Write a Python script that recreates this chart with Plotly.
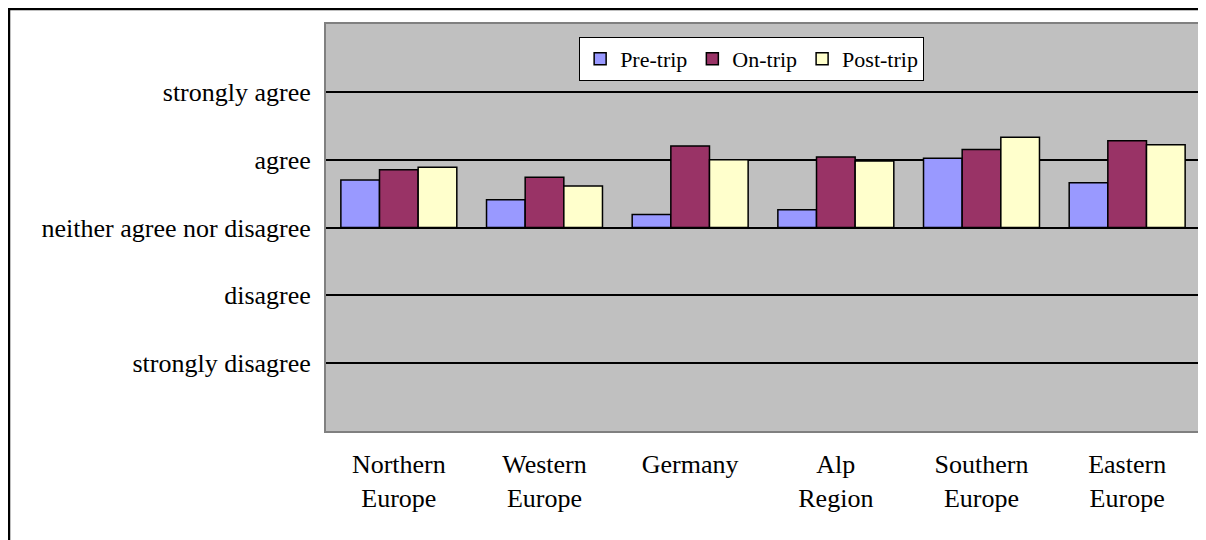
import plotly.graph_objects as go

categories = ["Northern<br>Europe", "Western<br>Europe", "Germany", "Alp<br>Region", "Southern<br>Europe", "Eastern<br>Europe"]
pre_trip = [0.70, 0.41, 0.19, 0.26, 1.02, 0.66]
on_trip = [0.85, 0.74, 1.20, 1.04, 1.15, 1.28]
post_trip = [0.89, 0.61, 1.00, 0.98, 1.33, 1.22]
scale_vals = [2, 1, 0, -1, -2]
scale_labels = ["strongly agree", "agree", "neither agree nor disagree", "disagree", "strongly disagree"]

FONT = "Times New Roman, Liberation Serif, serif"
W, H = 1206, 540
L, R, T, B = 318, 14, 16, 117
pw, ph = W - L - R, H - T - B

fig = go.Figure()
for name, vals, col in [("Pre-trip", pre_trip, "#9999FF"),
                        ("On-trip", on_trip, "#993366"),
                        ("Post-trip", post_trip, "#FFFFCC")]:
    fig.add_trace(go.Bar(x=categories, y=vals, name=name,
                         marker=dict(color=col, line=dict(color="black", width=1.5))))

def px(x):
    return (x - L) / pw

def py(y):
    return (H - B - y) / ph

fig.update_layout(
    width=W, height=H,
    margin=dict(l=L, r=R, t=T, b=B),
    paper_bgcolor="white",
    plot_bgcolor="#C0C0C0",
    barmode="group",
    bargap=0.204,
    bargroupgap=0,
    font=dict(family=FONT, color="black", size=26),
    showlegend=True,
    legend=dict(orientation="h", x=0.487, y=0.968, xanchor="center", yanchor="top",
                bgcolor="white", bordercolor="black", borderwidth=1,
                font=dict(family=FONT, size=22), itemwidth=30,
                traceorder="normal"),
    xaxis=dict(showgrid=False, showline=True, linecolor="#808080", linewidth=2, mirror=True,
               ticks="outside", ticklen=9, tickcolor="rgba(0,0,0,0)",
               tickfont=dict(family=FONT, size=26)),
    yaxis=dict(range=[-3, 3], tickvals=scale_vals, ticktext=scale_labels,
               showgrid=True, gridcolor="black", gridwidth=1.5,
               zeroline=True, zerolinecolor="black", zerolinewidth=1.5,
               showline=True, linecolor="#808080", linewidth=2, mirror=True,
               ticks="outside", ticklen=8, tickcolor="rgba(0,0,0,0)",
               tickfont=dict(family=FONT, size=26)),
    shapes=[
        dict(type="line", xref="paper", yref="paper", x0=px(0), x1=px(W), y0=py(1), y1=py(1),
             line=dict(color="black", width=2.5)),
        dict(type="line", xref="paper", yref="paper", x0=px(1), x1=px(1), y0=py(0), y1=py(H),
             line=dict(color="black", width=2.5)),
    ],
)

fig.write_html("out.html")
